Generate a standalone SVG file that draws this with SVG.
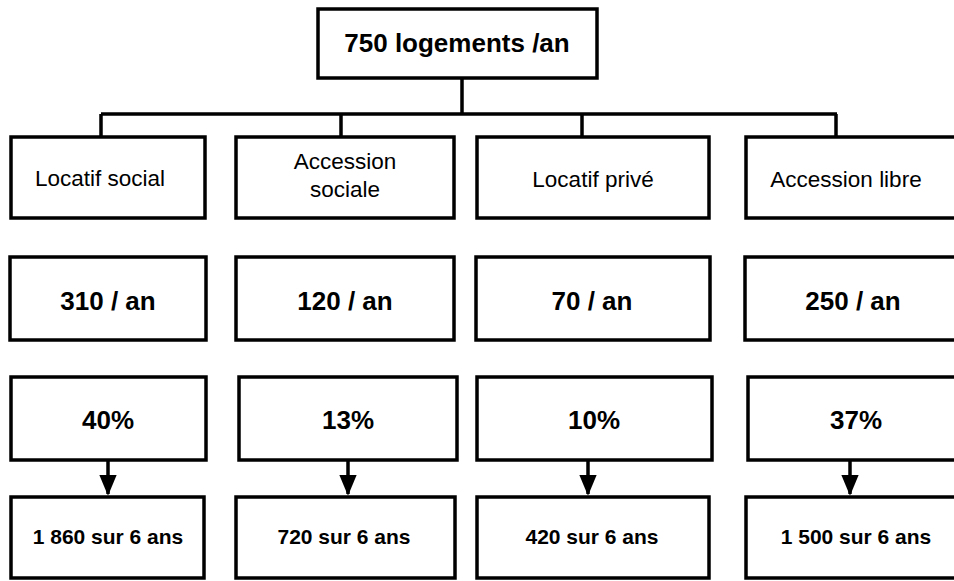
<svg xmlns="http://www.w3.org/2000/svg" width="954" height="581" viewBox="0 0 954 581">
  <style>
    .box { fill: #ffffff; stroke: #000000; stroke-width: 3.5; }
    .line { fill: none; stroke: #000000; stroke-width: 3.5; }
    .t { font-family: "Liberation Sans", Arial, sans-serif; fill: #000000; text-anchor: middle; }
    .b26 { font-weight: bold; font-size: 26px; }
    .b21 { font-weight: bold; font-size: 21px; }
    .r23 { font-size: 22.5px; }
  </style>
  <defs>
    <marker id="arrow" markerWidth="6" markerHeight="5" refX="5.5" refY="2.5" orient="auto" markerUnits="strokeWidth">
      <path d="M0,0 L6,2.5 L0,5 Z" fill="#000000"/>
    </marker>
  </defs>
  <rect width="954" height="581" fill="#ffffff"/>

  <g id="connectors">
    <path class="line" d="M462,78 V114 M101,114 H837 M101,114 V137 M341,114 V137 M582,114 V137 M836,114 V137"/>
    <line class="line" x1="108" y1="460" x2="108" y2="494" marker-end="url(#arrow)"/>
    <line class="line" x1="348" y1="460" x2="348" y2="494" marker-end="url(#arrow)"/>
    <line class="line" x1="588" y1="460" x2="588" y2="494" marker-end="url(#arrow)"/>
    <line class="line" x1="850" y1="460" x2="850" y2="494" marker-end="url(#arrow)"/>
  </g>

  <g id="top">
    <rect class="box" x="318" y="9" width="279" height="69"/>
    <text class="t b26" x="457" y="52">750 logements /an</text>
  </g>

  <g id="locatif-social">
    <rect class="box" x="11" y="137" width="194" height="81"/>
    <text class="t r23" x="100" y="186">Locatif social</text>
  </g>
  <g id="accession-sociale">
    <rect class="box" x="236" y="137" width="218" height="81"/>
    <text class="t r23" x="345" y="169">Accession</text>
    <text class="t r23" x="345" y="197">sociale</text>
  </g>
  <g id="locatif-prive">
    <rect class="box" x="477" y="137" width="232" height="81"/>
    <text class="t r23" x="593" y="187">Locatif privé</text>
  </g>
  <g id="accession-libre">
    <rect class="box" x="746" y="137" width="212" height="81"/>
    <text class="t r23" x="846" y="187">Accession libre</text>
  </g>

  <g id="an-1">
    <rect class="box" x="10" y="257" width="196" height="83"/>
    <text class="t b26" x="108" y="310">310 / an</text>
  </g>
  <g id="an-2">
    <rect class="box" x="236" y="257" width="218" height="83"/>
    <text class="t b26" x="345" y="310">120 / an</text>
  </g>
  <g id="an-3">
    <rect class="box" x="476" y="257" width="234" height="83"/>
    <text class="t b26" x="592" y="310">70 / an</text>
  </g>
  <g id="an-4">
    <rect class="box" x="745" y="257" width="213" height="83"/>
    <text class="t b26" x="853" y="310">250 / an</text>
  </g>

  <g id="pct-1">
    <rect class="box" x="11" y="377" width="195" height="83"/>
    <text class="t b26" x="108" y="429">40%</text>
  </g>
  <g id="pct-2">
    <rect class="box" x="239" y="377" width="218" height="83"/>
    <text class="t b26" x="348" y="429">13%</text>
  </g>
  <g id="pct-3">
    <rect class="box" x="477" y="377" width="235" height="83"/>
    <text class="t b26" x="594" y="429">10%</text>
  </g>
  <g id="pct-4">
    <rect class="box" x="748" y="377" width="210" height="83"/>
    <text class="t b26" x="856" y="429">37%</text>
  </g>

  <g id="six-1">
    <rect class="box" x="11" y="497" width="193" height="81"/>
    <text class="t b21" x="108" y="544">1 860 sur 6 ans</text>
  </g>
  <g id="six-2">
    <rect class="box" x="236" y="497" width="219" height="81"/>
    <text class="t b21" x="344" y="544">720 sur 6 ans</text>
  </g>
  <g id="six-3">
    <rect class="box" x="477" y="497" width="232" height="81"/>
    <text class="t b21" x="592" y="544">420 sur 6 ans</text>
  </g>
  <g id="six-4">
    <rect class="box" x="746" y="497" width="212" height="81"/>
    <text class="t b21" x="856" y="544">1 500 sur 6 ans</text>
  </g>
</svg>
